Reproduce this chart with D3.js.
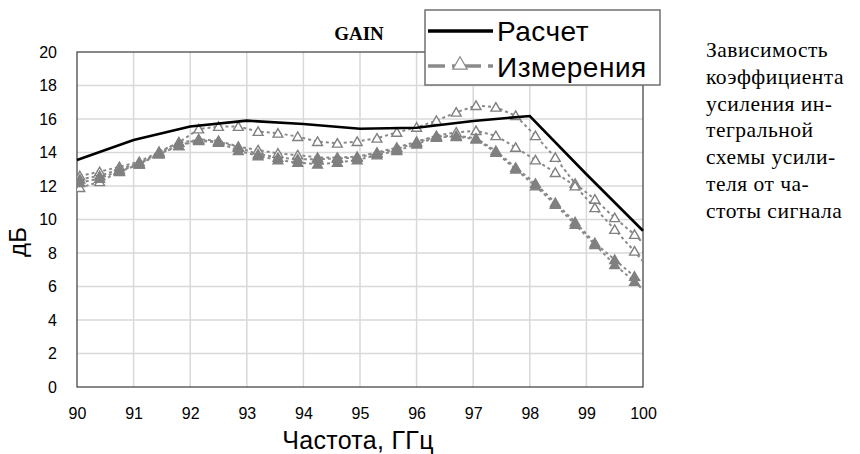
<!DOCTYPE html>
<html>
<head>
<meta charset="utf-8">
<script src="https://cdn.jsdelivr.net/npm/d3@7"></script>
<style>
  body { margin: 0; background: #fff; }
  svg { display: block; }
  .tick text { font-family: "Liberation Sans", Arial, sans-serif; font-size: 16px; fill: #000; }
</style>
</head>
<body>
<div id="wrapper"></div>
<script>
// data
const calcFreq = [90, 91, 92, 93, 94, 95, 96, 97, 98, 99, 100]
const calcGain = [13.55, 14.75, 15.55, 15.9, 15.7, 15.42, 15.48, 15.88, 16.18, 12.7, 9.33]

const measFreq = [90.05, 90.4, 90.75, 91.1, 91.45, 91.8, 92.15, 92.5, 92.85, 93.2,
  93.55, 93.9, 94.25, 94.6, 94.95, 95.3, 95.65, 96.0, 96.35, 96.7,
  97.05, 97.4, 97.75, 98.1, 98.45, 98.8, 99.15, 99.5, 99.85, 100]

const measA = [12.6, 12.85, 13.15, 13.45, 14.05, 14.6, 15.4, 15.55, 15.55, 15.25,
  15.15, 14.95, 14.65, 14.55, 14.65, 14.85, 15.2, 15.5, 15.9, 16.4,
  16.8, 16.7, 16.2, 15.0, 13.7, 12.15, 11.2, 10.1, 9.1, 8.6]
const measB = [11.9, 12.25, 12.85, 13.3, 13.9, 14.4, 14.8, 14.7, 14.35, 14.15,
  13.95, 13.85, 13.7, 13.7, 13.75, 14.0, 14.3, 14.65, 15.0, 15.2,
  15.3, 15.0, 14.3, 13.55, 12.8, 12.0, 10.7, 9.4, 8.1, 7.5]
const measC = [12.4, 12.6, 13.0, 13.35, 14.0, 14.6, 14.75, 14.65, 14.3, 13.9,
  13.7, 13.6, 13.6, 13.65, 13.7, 13.95, 14.2, 14.6, 14.95, 15.0,
  14.85, 14.1, 13.1, 12.15, 11.0, 9.85, 8.6, 7.6, 6.6, 6.2]
const measD = [12.2, 12.45, 12.9, 13.3, 13.95, 14.4, 14.7, 14.6, 14.1, 13.8,
  13.55, 13.4, 13.3, 13.4, 13.55, 13.85, 14.1, 14.5, 14.9, 14.95,
  14.8, 14.0, 13.0, 12.0, 10.9, 9.7, 8.5, 7.3, 6.3, 5.8]

const measSeries = [
  { name: "A", values: measA, hollow: true },
  { name: "B", values: measB, hollow: true },
  { name: "C", values: measC, hollow: false },
  { name: "D", values: measD, hollow: false },
]

const xTicks = [90, 91, 92, 93, 94, 95, 96, 97, 98, 99, 100]
const yTicks = [0, 2, 4, 6, 8, 10, 12, 14, 16, 18, 20]

const legendLabels = ["Расчет", "Измерения"]
const noteLines = ["Зависимость", "коэффициента", "усиления ин-", "тегральной",
  "схемы усили-", "теля от ча-", "стоты сигнала"]

function drawChart() {

  // dimensions
  let dimensions = {
    width: 860,
    height: 454,
    margin: { top: 52, right: 217, bottom: 67, left: 77 },
  }
  dimensions.boundedWidth = dimensions.width - dimensions.margin.left - dimensions.margin.right
  dimensions.boundedHeight = dimensions.height - dimensions.margin.top - dimensions.margin.bottom

  // canvas
  const wrapper = d3.select("#wrapper")
    .append("svg")
      .attr("width", dimensions.width)
      .attr("height", dimensions.height)

  const bounds = wrapper.append("g")
    .attr("transform", `translate(${dimensions.margin.left},${dimensions.margin.top})`)

  // scales
  const xScale = d3.scaleLinear()
    .domain([90, 100])
    .range([0, dimensions.boundedWidth])

  const yScale = d3.scaleLinear()
    .domain([0, 20])
    .range([dimensions.boundedHeight, 0])

  // grid
  bounds.append("g").selectAll("line")
    .data(xTicks.slice(1, -1))
    .join("line")
      .attr("x1", d => xScale(d)).attr("x2", d => xScale(d))
      .attr("y1", 0).attr("y2", dimensions.boundedHeight)
      .attr("stroke", "#d9d9d9").attr("stroke-width", 1.5)

  bounds.append("g").selectAll("line")
    .data(yTicks.slice(1, -1))
    .join("line")
      .attr("y1", d => yScale(d)).attr("y2", d => yScale(d))
      .attr("x1", 0).attr("x2", dimensions.boundedWidth)
      .attr("stroke", "#d9d9d9").attr("stroke-width", 1.5)

  // frame
  bounds.append("rect")
    .attr("width", dimensions.boundedWidth)
    .attr("height", dimensions.boundedHeight)
    .attr("fill", "none")
    .attr("stroke", "#3a3a3a")
    .attr("stroke-width", 1.2)

  // measured curves
  bounds.append("clipPath").attr("id", "plotClip")
    .append("rect")
      .attr("width", dimensions.boundedWidth)
      .attr("height", dimensions.boundedHeight)

  const measLine = d3.line()
    .x((d, i) => xScale(measFreq[i]))
    .y(d => yScale(d))

  const measGroup = bounds.append("g").attr("clip-path", "url(#plotClip)")

  measGroup.selectAll(".meas")
    .data(measSeries)
    .join("path")
      .attr("class", "meas")
      .attr("d", d => measLine(d.values))
      .attr("fill", "none")
      .attr("stroke", "#8a8a8a")
      .attr("stroke-width", 2)
      .attr("stroke-dasharray", "3,3")

  const triangle = d3.symbol().type(d3.symbolTriangle).size(42)

  measSeries.forEach(s => {
    measGroup.append("g").selectAll("path")
      .data(s.values.slice(0, -1))
      .join("path")
        .attr("d", triangle)
        .attr("transform", (d, i) => `translate(${xScale(measFreq[i])},${yScale(d) + 1})`)
        .attr("fill", s.hollow ? "#fff" : "#808080")
        .attr("stroke", "#808080")
        .attr("stroke-width", 1.4)
  })

  // calculated curve
  const calcLine = d3.line()
    .x((d, i) => xScale(calcFreq[i]))
    .y(d => yScale(d))

  bounds.append("path")
    .attr("d", calcLine(calcGain))
    .attr("fill", "none")
    .attr("stroke", "#000")
    .attr("stroke-width", 2.6)

  // axes
  const xAxis = bounds.append("g")
    .attr("transform", `translate(0,${dimensions.boundedHeight})`)
    .call(d3.axisBottom(xScale).tickValues(xTicks).tickSize(0).tickPadding(21).tickFormat(d3.format("d")))
  xAxis.select(".domain").remove()

  const yAxis = bounds.append("g")
    .call(d3.axisLeft(yScale).tickValues(yTicks).tickSize(0).tickPadding(20))
  yAxis.select(".domain").remove()

  wrapper.append("text")
    .attr("x", dimensions.margin.left + dimensions.boundedWidth / 2 - 2)
    .attr("y", 449)
    .attr("text-anchor", "middle")
    .style("font-family", "Liberation Sans, Arial, sans-serif")
    .style("font-size", "25px")
    .style("letter-spacing", "0.3px")
    .text("Частота, ГГц")

  wrapper.append("text")
    .attr("transform", "translate(26,242) rotate(-90)")
    .attr("text-anchor", "middle")
    .style("font-family", "Liberation Sans, Arial, sans-serif")
    .style("font-size", "24px")
    .text("дБ")

  // title
  wrapper.append("text")
    .attr("x", 359)
    .attr("y", 40)
    .attr("text-anchor", "middle")
    .style("font-family", "Liberation Serif, Times New Roman, serif")
    .style("font-weight", "bold")
    .style("font-size", "19px")
    .text("GAIN")

  // legend
  const legend = wrapper.append("g")
  legend.append("rect")
    .attr("x", 425).attr("y", 10)
    .attr("width", 235).attr("height", 75)
    .attr("fill", "#fff")
    .attr("stroke", "#707070")
    .attr("stroke-width", 1.5)

  legend.append("line")
    .attr("x1", 428).attr("x2", 493)
    .attr("y1", 31).attr("y2", 31)
    .attr("stroke", "#000").attr("stroke-width", 3.5)

  legend.append("line")
    .attr("x1", 428).attr("x2", 493)
    .attr("y1", 66).attr("y2", 66)
    .attr("stroke", "#8a8a8a").attr("stroke-width", 3.5)
    .attr("stroke-dasharray", "17,7,5,7")

  legend.append("path")
    .attr("d", d3.symbol().type(d3.symbolTriangle).size(90))
    .attr("transform", "translate(460,65)")
    .attr("fill", "#fff")
    .attr("stroke", "#8a8a8a")
    .attr("stroke-width", 1.2)

  legend.selectAll(".legend-label")
    .data(legendLabels)
    .join("text")
      .attr("class", "legend-label")
      .attr("x", 497)
      .attr("y", (d, i) => 41 + i * 36)
      .style("font-family", "Liberation Sans, Arial, sans-serif")
      .style("font-size", "28px")
      .style("letter-spacing", "0.5px")
      .text(d => d)

  // note on the right
  wrapper.append("g").selectAll("text")
    .data(noteLines)
    .join("text")
      .attr("x", 706)
      .attr("y", (d, i) => 57 + i * 26.8)
      .style("font-family", "Liberation Serif, Times New Roman, serif")
      .style("font-size", "21.5px")
      .style("letter-spacing", "0.5px")
      .text(d => d)
}
drawChart()
</script>
</body>
</html>
